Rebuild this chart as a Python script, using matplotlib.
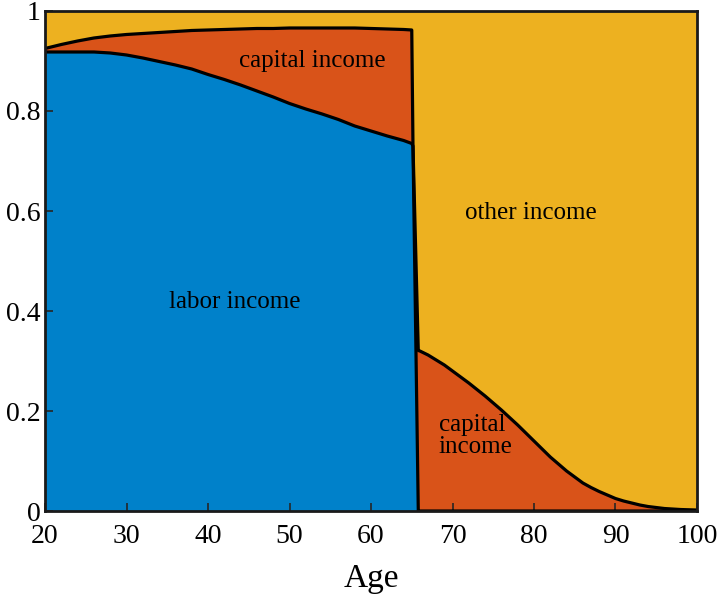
import matplotlib
matplotlib.use("Agg")
import matplotlib.pyplot as plt
import numpy as np

# ---- data ----
ages = [20, 22, 24, 26, 28, 30, 32, 34, 36, 38, 40, 42, 44, 46, 48, 50, 52, 54,
        56, 58, 60, 62, 64, 65, 65.15, 65.8,
        66, 67, 68, 69, 70, 72, 74, 76, 78, 80, 82, 84, 86, 87, 88, 89, 90, 91,
        92, 93, 94, 96, 98, 100]

labor = [0.918, 0.918, 0.918, 0.918, 0.916, 0.912, 0.906, 0.899, 0.892, 0.884,
         0.873, 0.863, 0.852, 0.840, 0.828, 0.815, 0.804, 0.794, 0.783, 0.770,
         0.760, 0.750, 0.741, 0.735, 0.730, 0.0,
         0.0, 0.0, 0.0, 0.0, 0.0, 0.0, 0.0, 0.0, 0.0, 0.0, 0.0, 0.0, 0.0, 0.0,
         0.0, 0.0, 0.0, 0.0, 0.0, 0.0, 0.0, 0.0, 0.0, 0.0]

capital = [0.007, 0.015, 0.022, 0.028, 0.034, 0.041, 0.049, 0.058, 0.067, 0.077,
           0.089, 0.100, 0.112, 0.125, 0.137, 0.151, 0.162, 0.172, 0.183, 0.196,
           0.205, 0.214, 0.222, 0.227, 0.0, 0.321,
           0.320, 0.312, 0.302, 0.292, 0.280, 0.256, 0.230, 0.202, 0.172, 0.140,
           0.108, 0.080, 0.056, 0.047, 0.039, 0.032, 0.025, 0.020,
           0.016, 0.012, 0.009, 0.005, 0.003, 0.002]

xticks = [20, 30, 40, 50, 60, 70, 80, 90, 100]
yticks = [0, 0.2, 0.4, 0.6, 0.8, 1]
ytick_labels = ["0", "0.2", "0.4", "0.6", "0.8", "1"]

# ---- drawing ----
plt.rcParams['font.family'] = ['Liberation Serif', 'DejaVu Serif']

a = np.array(ages)
lab = np.array(labor)
top = lab + np.array(capital)

fig = plt.figure(figsize=(7.24, 5.94), dpi=100)
ax = fig.add_axes([0.0622, 0.1397, 0.9005, 0.8418])

blue = "#0081CA"
orange = "#D95319"
yellow = "#EDB120"

ax.fill_between(a, 0, lab, color=blue, linewidth=0)
ax.fill_between(a, lab, top, color=orange, linewidth=0)
ax.fill_between(a, top, 1, color=yellow, linewidth=0)

ax.plot(a, lab, color="black", lw=2.3, solid_joinstyle="round", zorder=3)
ax.plot(a, top, color="black", lw=2.3, solid_joinstyle="round", zorder=3)

ax.set_xlim(20, 100)
ax.set_ylim(0, 1)
ax.set_xticks(xticks)
ax.set_xticklabels([str(t) for t in xticks])
ax.set_yticks(yticks)
ax.set_yticklabels(ytick_labels)
ax.tick_params(direction="in", length=6, width=1.2, color="#262626",
               labelsize=20, labelcolor="black")
ax.tick_params(axis="x", pad=9)
ax.tick_params(axis="y", pad=3)
for s in ax.spines.values():
    s.set_linewidth(2.0)
    s.set_color("#1a1a1a")
    s.set_zorder(5)

ax.set_xlabel("Age", fontsize=24, labelpad=11)

ax.text(52.8, 0.899, "capital income", fontsize=18, ha="center", va="center")
ax.text(79.6, 0.596, "other income", fontsize=18, ha="center", va="center")
ax.text(43.3, 0.418, "labor income", fontsize=18, ha="center", va="center")
ax.text(68.3, 0.15, "capital\nincome", fontsize=18, ha="left", va="center",
        linespacing=1.0)

fig.savefig("out.png", dpi=100)
